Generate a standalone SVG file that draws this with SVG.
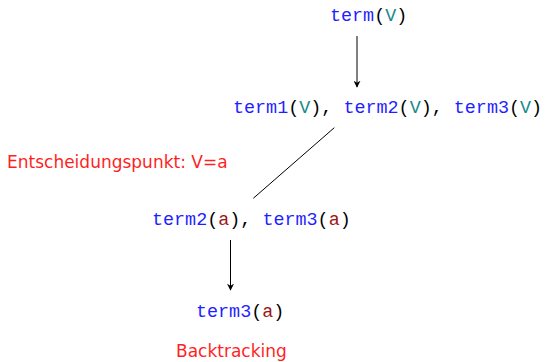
<svg xmlns="http://www.w3.org/2000/svg" width="548" height="362" viewBox="0 0 548 362">
<style>
.tt{font-family:"Liberation Mono","DejaVu Sans Mono",monospace;font-size:18.4px;fill:#000}
.fn{fill:#1f1fff}
.v{fill:#1a8a8a}
.a{fill:#9e1414}
.lbl{font-family:"DejaVu Sans","Liberation Sans",sans-serif;font-size:17px;fill:#ff1f1f}
.edge{stroke:#000;stroke-width:1;fill:none}
</style>
<defs>
<marker id="ah" viewBox="0 0 10 10" refX="9" refY="5" markerWidth="7" markerHeight="7" markerUnits="userSpaceOnUse" orient="auto">
<path d="M0,0 L10,5 L0,10 L3,5 Z" fill="#000"/>
</marker>
</defs>
<rect width="548" height="362" fill="#fff"/>
<g id="connectors">
<line class="edge" x1="357" y1="36" x2="357" y2="87" marker-end="url(#ah)"/>
<line class="edge" x1="334.3" y1="127.7" x2="253.3" y2="198.3"/>
<line class="edge" x1="230.5" y1="240" x2="230.5" y2="290" marker-end="url(#ah)"/>
</g>
<g id="node-term">
<text class="tt" x="330" y="21"><tspan class="fn">term</tspan>(<tspan class="v">V</tspan>)</text>
</g>
<g id="node-goals1">
<text class="tt" x="233" y="112.5"><tspan class="fn">term1</tspan>(<tspan class="v">V</tspan>), <tspan class="fn">term2</tspan>(<tspan class="v">V</tspan>), <tspan class="fn">term3</tspan>(<tspan class="v">V</tspan>)</text>
</g>
<g id="node-goals2">
<text class="tt" x="152" y="225"><tspan class="fn">term2</tspan>(<tspan class="a">a</tspan>), <tspan class="fn">term3</tspan>(<tspan class="a">a</tspan>)</text>
</g>
<g id="node-goals3">
<text class="tt" x="196" y="317"><tspan class="fn">term3</tspan>(<tspan class="a">a</tspan>)</text>
</g>
<g id="label-decision">
<text class="lbl" x="7" y="168">Entscheidungspunkt: V=a</text>
</g>
<g id="label-backtracking">
<text class="lbl" x="176" y="357">Backtracking</text>
</g>
</svg>
